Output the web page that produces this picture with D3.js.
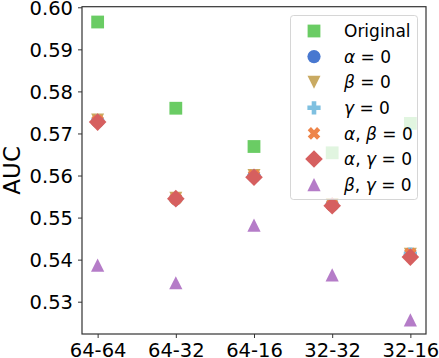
<!DOCTYPE html>
<html>
<head>
<meta charset="utf-8">
<script src="https://cdn.jsdelivr.net/npm/d3@7"></script>
<style>
  body { margin: 0; background: #fff; }
  text { font-family: "DejaVu Sans", sans-serif; fill: #000; }
</style>
</head>
<body>
<svg id="chart" width="439" height="358"></svg>
<script>
// categories and series
var categories = ["64-64", "64-32", "64-16", "32-32", "32-16"]
var yTicks = [0.53, 0.54, 0.55, 0.56, 0.57, 0.58, 0.59, 0.60]

var original   = [0.5965, 0.5760, 0.5669, 0.5654, 0.5724]
var alpha0     = [0.5729, 0.5545, 0.5598, 0.5530, 0.5412]
var beta0      = [0.5732, 0.5546, 0.5600, 0.5531, 0.5413]
var gamma0     = [0.5729, 0.5544, 0.5598, 0.5530, 0.5413]
var alphaBeta0 = [0.5730, 0.5545, 0.5600, 0.5530, 0.5414]
var alphaGamma0 = [0.5727, 0.5545, 0.5596, 0.5528, 0.5406]
var betaGamma0 = [0.5387, 0.5345, 0.5482, 0.5364, 0.5257]

// series list : label parts, values, marker, colour
var series = [
  {label: [["Original", false]], values: original, marker: "square", color: "#6acc64"},
  {label: [["α", true], [" = 0", false]], values: alpha0, marker: "circle", color: "#4878d0"},
  {label: [["β", true], [" = 0", false]], values: beta0, marker: "tridown", color: "#c9aa62"},
  {label: [["γ", true], [" = 0", false]], values: gamma0, marker: "plus", color: "#7fc0e0"},
  {label: [["α", true], [", ", false], ["β", true], [" = 0", false]], values: alphaBeta0, marker: "x", color: "#ee854a"},
  {label: [["α", true], [", ", false], ["γ", true], [" = 0", false]], values: alphaGamma0, marker: "diamond", color: "#d65f5f"},
  {label: [["β", true], [", ", false], ["γ", true], [" = 0", false]], values: betaGamma0, marker: "triup", color: "#b57cc8"}
]

var svg = d3.select("#chart")

var margin = {left: 82, right: 13, top: 6.7, bottom: 24}
var W = 439, H = 358

var x = d3.scalePoint()
  .domain(categories)
  .range([margin.left, W - margin.right])
  .padding(0.2)

var y = d3.scaleLinear()
  .domain([0.52232, 0.60014])
  .range([H - margin.bottom, margin.top])

// marker paths, drawn around 0,0
function markerPath(kind) {
  var p = d3.path()
  if (kind == "square") {
    var r = 6.4
    p.rect(-r, -r, 2 * r, 2 * r)
  } else if (kind == "circle") {
    p.arc(0, 0, 6.6, 0, 2 * Math.PI)
  } else if (kind == "tridown") {
    var r = 6.5
    p.moveTo(0, r); p.lineTo(-r, -r); p.lineTo(r, -r); p.closePath()
  } else if (kind == "triup") {
    var r = 6.6
    p.moveTo(0, -r); p.lineTo(-r, r); p.lineTo(r, r); p.closePath()
  } else if (kind == "diamond") {
    var r = 8.8
    p.moveTo(0, -r); p.lineTo(r, 0); p.lineTo(0, r); p.lineTo(-r, 0); p.closePath()
  } else if (kind == "plus" || kind == "x") {
    var e = 6.6, a = 2.3
    var pts = [[-a, -e], [a, -e], [a, -a], [e, -a], [e, a], [a, a], [a, e], [-a, e], [-a, a], [-e, a], [-e, -a], [-a, -a]]
    if (kind == "x") {
      var c = Math.SQRT1_2
      pts = pts.map(function(q) { return [(q[0] - q[1]) * c, (q[0] + q[1]) * c] })
    }
    pts.forEach(function(q, i) { i == 0 ? p.moveTo(q[0], q[1]) : p.lineTo(q[0], q[1]) })
    p.closePath()
  }
  return p.toString()
}

// points
series.forEach(function(s) {
  svg.append("g")
    .selectAll("path")
    .data(s.values)
    .enter()
    .append("path")
    .attr("d", markerPath(s.marker))
    .attr("transform", function(d, i) { return "translate(" + x(categories[i]) + "," + y(d) + ")" })
    .attr("fill", s.color)
})

// axes
var xAxis = svg.append("g")
  .attr("transform", "translate(0," + (H - margin.bottom) + ")")
  .call(d3.axisBottom(x).tickSize(4).tickPadding(5))
var yAxis = svg.append("g")
  .attr("transform", "translate(" + margin.left + ",0)")
  .call(d3.axisLeft(y).tickValues(yTicks).tickFormat(d3.format(".2f")).tickSize(4).tickPadding(5))

;[xAxis, yAxis].forEach(function(g) {
  g.selectAll("text").style("font-size", "19.5px").attr("fill", "#000")
  g.selectAll("line").attr("stroke", "#333").attr("stroke-width", 1)
  g.select(".domain").remove()
})
yAxis.selectAll("text").attr("dy", "0.36em")

// frame
svg.append("rect")
  .attr("x", margin.left)
  .attr("y", margin.top)
  .attr("width", W - margin.left - margin.right)
  .attr("height", H - margin.top - margin.bottom)
  .attr("fill", "none")
  .attr("stroke", "#333")
  .attr("stroke-width", 1.2)

// y label
svg.append("text")
  .attr("transform", "translate(20," + ((margin.top + H - margin.bottom) / 2) + ") rotate(-90)")
  .attr("text-anchor", "middle")
  .style("font-size", "23px")
  .text("AUC")

// legend
var legend = svg.append("g")
legend.append("rect")
  .attr("x", 290.5).attr("y", 15.5)
  .attr("width", 127).attr("height", 184)
  .attr("rx", 3)
  .attr("fill", "#fff").attr("fill-opacity", 0.8)
  .attr("stroke", "#ccc").attr("stroke-opacity", 0.8)

series.forEach(function(s, i) {
  var ry = 31 + i * 25.6
  legend.append("path")
    .attr("d", markerPath(s.marker))
    .attr("transform", "translate(314," + ry + ")")
    .attr("fill", s.color)
  var t = legend.append("text")
    .attr("x", 344).attr("y", ry + 6.2)
    .style("font-size", "17px")
  s.label.forEach(function(part) {
    t.append("tspan")
      .style("font-style", part[1] ? "italic" : "normal")
      .text(part[0])
  })
})
</script>
</body>
</html>
